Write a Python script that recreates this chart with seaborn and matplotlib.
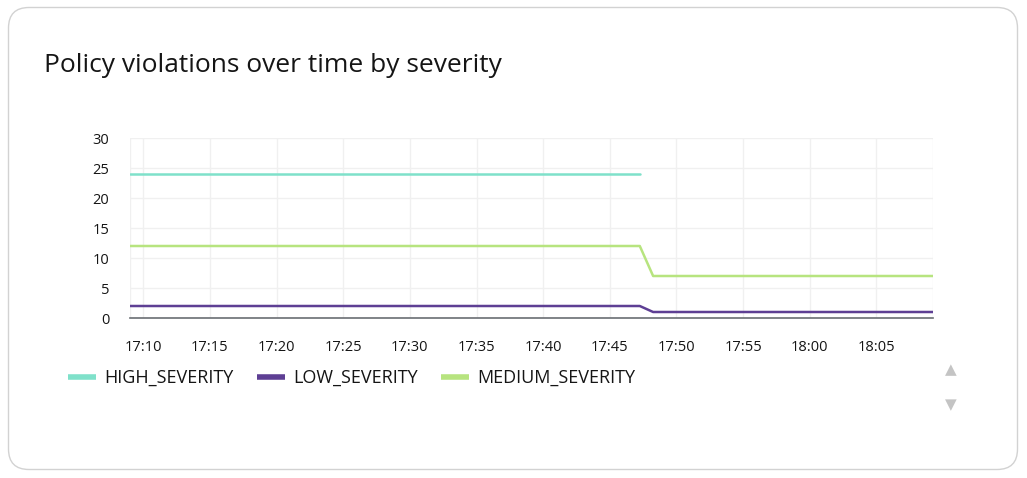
import pandas as pd
import seaborn as sns
import matplotlib.pyplot as plt
import matplotlib.dates as mdates
from matplotlib.lines import Line2D
from matplotlib.patches import FancyBboxPatch

# data (minute resolution)
high_times = ["17:09:00", "17:47:15"]
high_values = [24, 24]
low_times = ["17:09:00", "17:47:15", "17:48:15", "18:09:15"]
low_values = [2, 2, 1, 1]
medium_times = ["17:09:00", "17:47:15", "17:48:15", "18:09:15"]
medium_values = [12, 12, 7, 7]

series = ["HIGH_SEVERITY", "LOW_SEVERITY", "MEDIUM_SEVERITY"]
colors = ["#7fe1ca", "#5e3f94", "#b7e47f"]

frames = []
for name, t, v in zip(series, [high_times, low_times, medium_times],
                      [high_values, low_values, medium_values]):
    frames.append(pd.DataFrame({"time": pd.to_datetime("2024-01-01 " + pd.Series(t)),
                                "count": v, "severity": name}))
df = pd.concat(frames, ignore_index=True)

sns.set_style("white")
plt.rcParams["font.family"] = ["Open Sans", "DejaVu Sans"]

fig = plt.figure(figsize=(10.27, 4.78), dpi=100)
fig.patch.set_facecolor("white")

# card border
card = FancyBboxPatch((8.5 / 1027, 8.5 / 478), 1009 / 1027, 462 / 478,
                      boxstyle="round,pad=0,rounding_size=0.02",
                      transform=fig.transFigure, facecolor="none",
                      edgecolor="#d2d2d2", linewidth=1.0,
                      mutation_aspect=1027 / 478, zorder=-1)
fig.add_artist(card)

fig.text(44 / 1027, 1 - 66 / 478, "Policy violations over time by severity",
         fontsize=19, color="#151515", va="center", ha="left")

ax = fig.add_axes([130 / 1027, 1 - 318 / 478, 803 / 1027, 180 / 478])
ax.set_facecolor("none")
sns.lineplot(data=df, x="time", y="count", hue="severity", hue_order=series,
             palette=colors, linewidth=1.8, legend=False, ax=ax)

ax.set_xlim(pd.Timestamp("2024-01-01 17:09:00"), pd.Timestamp("2024-01-01 18:09:15"))
ax.set_ylim(0, 30)
ax.set_yticks([0, 5, 10, 15, 20, 25, 30])
ax.xaxis.set_major_locator(mdates.MinuteLocator(byminute=range(0, 60, 5)))
ax.xaxis.set_major_formatter(mdates.DateFormatter("%H:%M"))
ax.set_xlabel("")
ax.set_ylabel("")
ax.grid(True, color="#f0f0f0", linewidth=1)
for s in ["top", "right", "left"]:
    ax.spines[s].set_visible(False)
ax.spines["bottom"].set_color("#6a6e73")
ax.spines["bottom"].set_linewidth(1.2)
ax.axvline(ax.get_xlim()[0], color="#f0f0f0", lw=1, zorder=0)
ax.axvline(ax.get_xlim()[1], color="#f0f0f0", lw=1, zorder=0)
ax.tick_params(axis="both", length=0, labelsize=10.5, colors="#151515")
ax.tick_params(axis="x", pad=16)
ax.tick_params(axis="y", pad=15)

handles = [Line2D([], [], color=c, lw=4, solid_capstyle="butt") for c in colors]
fig.legend(handles, series, loc="center left", bbox_to_anchor=(52 / 1027, 1 - 378 / 478),
           ncol=3, frameon=False, fontsize=13.0, handlelength=1.55, handletextpad=0.45,
           columnspacing=1.3, labelcolor="#151515")

fig.text(951 / 1027, 1 - 370 / 478, "▲", fontsize=11, color="#c4c4c4",
         ha="center", va="center", family=["DejaVu Sans"])
fig.text(951 / 1027, 1 - 405 / 478, "▼", fontsize=11, color="#c4c4c4",
         ha="center", va="center", family=["DejaVu Sans"])

fig.savefig("out.png", dpi=100)
